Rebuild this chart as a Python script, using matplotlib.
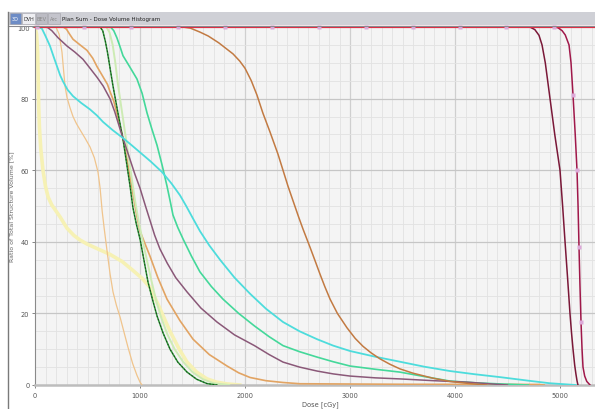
import matplotlib
matplotlib.use("Agg")
import matplotlib.pyplot as plt
from matplotlib.patches import Rectangle
from matplotlib.lines import Line2D
import numpy as np

W, H = 595, 410

# ---------------- data (dose in cGy, volume in %) ----------------
red_top_dose = [0, 5340]
red_top_vol = [100, 100]

maroon_dose = [0, 4714, 4760, 4800, 4829, 4860, 4905, 4950, 5000, 5025, 5048, 5072, 5095,
               5110, 5124, 5140, 5152, 5162, 5171]
maroon_vol = [100, 100, 99.3, 97.7, 95, 90, 80, 70, 60, 50, 40, 30, 20,
              14.5, 10, 5.5, 3, 1.2, 0]

crimson_dose = [0, 4950, 4981, 5020, 5050, 5086, 5105, 5124, 5145, 5162, 5172, 5181, 5190,
                5200, 5210, 5219, 5235, 5255, 5286]
crimson_vol = [100, 100, 99.8, 99, 97.8, 95, 90, 81, 70, 60, 50, 38.5, 28,
               17.6, 10, 5, 2.5, 1, 0]

brown_dose = [0, 1410, 1480, 1571, 1650, 1750, 1886, 1950, 2000, 2060, 2114, 2170, 2238,
              2314, 2362, 2410, 2457, 2510, 2552, 2619, 2670, 2714, 2760, 2810, 2880,
              2971, 3050, 3124, 3200, 3286, 3380, 3476, 3600, 3790, 3950, 4140, 4300]
brown_vol = [100, 100, 99.7, 98.6, 97.5, 95.6, 92.5, 90.5, 88.5, 85, 81, 76, 70.7,
             64.5, 60, 55.5, 51.5, 47, 43.6, 38.5, 34.5, 31, 27.5, 24, 20,
             16, 13, 10.8, 9, 7.3, 5.8, 4.5, 3.3, 1.9, 1, 0.4, 0]

cyan_dose = [0, 40, 67, 100, 143, 180, 210, 240, 267, 310, 362, 440, 524, 590, 648, 740,
             838, 920, 1000, 1100, 1210, 1300, 1381, 1440, 1505, 1571, 1660, 1762, 1900,
             2048, 2200, 2362, 2520, 2686, 2840, 3000, 3240, 3476, 3710, 3952, 4190,
             4429, 4700, 4900, 5000, 5150]
cyan_vol = [100, 100, 99.5, 97.5, 94.7, 91.5, 89, 86.5, 84.8, 82.5, 80.7, 78.8, 77, 75.3,
            73.5, 71.2, 69, 67, 65, 62.5, 59.5, 56.3, 53, 50, 46.5, 43, 39, 35, 30,
            25.5, 21.3, 17.6, 15, 12.8, 11, 9.5, 7.9, 6.5, 5.1, 3.9, 3,
            2.2, 1.2, 0.5, 0.3, 0]

purple_dose = [0, 114, 160, 220, 305, 380, 457, 524, 590, 650, 714, 760, 810, 860, 905,
               950, 1000, 1050, 1095, 1140, 1190, 1260, 1340, 1448, 1580, 1733, 1900,
               2090, 2230, 2362, 2520, 2686, 2840, 3000, 3240, 3476, 3800, 4114, 4350, 4500]
purple_vol = [100, 100, 99, 97, 94.7, 93, 91, 88.5, 86, 83.5, 80, 76.3, 71.5, 67, 63,
              59, 55, 50.2, 46, 41.8, 38, 34, 30, 26, 21.5, 17.6, 14,
              11, 8.5, 6.4, 5, 3.9, 3.1, 2.5, 2, 1.7, 1.2, 0.8, 0.3, 0]

mint_dose = [0, 720, 750, 780, 810, 838, 900, 971, 1020, 1067, 1110, 1162, 1210, 1257,
             1290, 1314, 1360, 1410, 1490, 1571, 1680, 1790, 1940, 2090, 2230, 2362,
             2520, 2686, 2840, 3000, 3240, 3476, 3700, 3952, 4200, 4429, 4700]
mint_vol = [100, 100, 99, 97, 94.5, 92, 89, 85.5, 81.5, 76, 71.8, 67, 61.5, 55.6,
            51, 47.5, 44, 40.8, 36, 31.6, 27.5, 24, 20, 16.5, 13.5, 11,
            9.3, 7.8, 6.5, 5.3, 4.4, 3.6, 2.4, 1.1, 0.6, 0.3, 0]

dkgreen_dose = [0, 620, 645, 670, 690, 715, 743, 790, 838, 875, 905, 933, 965, 1000,
                1040, 1076, 1120, 1162, 1220, 1286, 1360, 1448, 1540, 1638, 1733]
dkgreen_vol = [100, 100, 99, 96, 93, 88.5, 83.5, 76, 68.7, 61.5, 55.6, 49.5, 45, 40.8,
               34.5, 28.8, 23.8, 19.3, 14.5, 10, 6.4, 3.6, 1.6, 0.4, 0]

palegreen_dose = [0, 680, 710, 740, 765, 790, 830, 870, 910, 950, 985, 1020, 1065, 1110,
                  1155, 1200, 1260, 1330, 1410, 1500, 1600, 1700, 1850]
palegreen_vol = [100, 100, 98.5, 95, 90, 84, 76, 68, 60, 52, 46, 41, 35, 29,
                 23.5, 19, 14.2, 10, 6.5, 3.6, 1.6, 0.5, 0]

orange_dose = [0, 270, 300, 330, 362, 430, 495, 550, 590, 650, 690, 714, 750, 780, 830,
               876, 920, 971, 1000, 1050, 1095, 1170, 1257, 1380, 1505, 1660, 1829, 1940,
               2048, 2200, 2362, 2524, 3500, 4800, 4850]
orange_vol = [100, 100, 99.4, 98, 96.6, 95, 93.5, 91.3, 89, 86, 84, 82, 79.3, 76, 70,
              63, 55.5, 47, 43, 39.3, 36, 30, 24, 18, 12.8, 8.5, 5.3, 3.4,
              2.1, 1.2, 0.7, 0.35, 0.2, 0.15, 0]

tan_dose = [0, 200, 230, 257, 272, 286, 305, 333, 362, 395, 429, 480, 524, 565, 600, 620,
            640, 660, 686, 715, 743, 775, 810, 850, 886, 930, 971, 1000, 1019]
tan_vol = [100, 100, 98, 93, 88, 83.5, 80.3, 77.5, 75, 73, 71.3, 68.8, 66.5, 63.5, 59.5, 55,
           48.5, 43.5, 37.5, 31, 26, 22.3, 19, 14.5, 10.5, 6, 2.7, 0.8, 0]

paleyellow_dose = [0, 15, 25, 30, 35, 42, 55, 76, 100, 125, 160, 238, 305, 370, 429, 495,
                   600, 714, 830, 933, 1020, 1095, 1180, 1286, 1370, 1448, 1540, 1638,
                   1730, 1829, 1950]
paleyellow_vol = [100, 98, 93, 86, 78, 72, 66, 60, 55.5, 52.5, 50.3, 47, 43.8, 41.8, 40.5,
                  39.4, 38, 36.5, 34.5, 32, 29.8, 27.3, 22, 15, 10.2, 6.4, 3.6, 1.7,
                  0.8, 0.3, 0]

marker_dose = [20, 470, 915, 1365, 1810, 2255, 2705, 3150, 3600, 4045, 4490, 4940,
               5124, 5162, 5181, 5200]
marker_vol = [100] * 12 + [81, 60, 38.5, 17.6]

x_ticks = [0, 1000, 2000, 3000, 4000, 5000]
x_tick_labels = ["0", "1000", "2000", "3000", "4000", "5000"]
y_ticks = [0, 20, 40, 60, 80, 100]
y_tick_labels = ["0", "20", "40", "60", "80", "100"]

title_text = "Plan Sum - Dose Volume Histogram"
tab_labels = ["3D", "DVH", "BEV", "Arc"]
x_label = "Dose [cGy]"
y_label = "Ratio of Total Structure Volume [%]"

# ---------------- figure ----------------
fig = plt.figure(figsize=(W / 100, H / 100), dpi=100)
fig.patch.set_facecolor("white")

def fx(px):
    return px / W

def fy(py):
    return 1 - py / H

narrow = ["Liberation Sans Narrow", "DejaVu Sans"]

# axes
ax_l, ax_r, ax_t, ax_b = 35, 596, 27, 386
ax = fig.add_axes([fx(ax_l), fy(ax_b), fx(ax_r) - fx(ax_l), fy(ax_t) - fy(ax_b)])
ax.set_facecolor("#f4f4f4")
xmax = (ax_r - ax_l) / 0.105
ax.set_xlim(0, xmax)
ax.set_ylim(0, 100.3)

# grid
for d in np.arange(100, xmax, 100):
    major = abs(d % 1000) < 1
    ax.axvline(d, color="#cfcfcf" if major else "#e2e2e2", lw=0.9 if major else 0.6, zorder=0)
for v in np.arange(5, 100, 5):
    major = v % 20 == 0
    ax.axhline(v, color="#c6c6c6" if major else "#e2e2e2", lw=0.9 if major else 0.6, zorder=0)

# curves
ax.plot(paleyellow_dose, paleyellow_vol, color="#f6f1b4", lw=2.6, zorder=2)
ax.plot(tan_dose, tan_vol, color="#f0c48c", lw=0.9, zorder=3)
ax.plot(orange_dose, orange_vol, color="#e2a463", lw=1.2, zorder=3)
ax.plot(palegreen_dose, palegreen_vol, color="#cdebb4", lw=1.4, zorder=3)
ax.plot(dkgreen_dose, dkgreen_vol, color="#2f9a3a", lw=1.1, zorder=4)
ax.plot(dkgreen_dose, dkgreen_vol, color="#1c3a1c", lw=0.6, dashes=(2, 2), zorder=4)
ax.plot(mint_dose, mint_vol, color="#44d89a", lw=1.2, zorder=4)
ax.plot(purple_dose, purple_vol, color="#8a5878", lw=1.1, zorder=4)
ax.plot(cyan_dose, cyan_vol, color="#4ddcdc", lw=1.3, zorder=4)
ax.plot(brown_dose, brown_vol, color="#c27a42", lw=1.1, zorder=4)
ax.plot(maroon_dose, maroon_vol, color="#7a1838", lw=1.1, zorder=5)
ax.plot(crimson_dose, crimson_vol, color="#a0184a", lw=1.1, zorder=5)
ax.plot(red_top_dose, red_top_vol, color="#e02a40", lw=1.6, zorder=6, clip_on=False)
ax.plot(marker_dose, marker_vol, ls="none", marker="s", ms=2.2, color="#dca8d8",
        mec="none", zorder=7, clip_on=False)

# spines / ticks
for s in ["top", "right"]:
    ax.spines[s].set_visible(False)
ax.spines["left"].set_color("#8a8a8a")
ax.spines["left"].set_linewidth(0.8)
ax.spines["bottom"].set_color("#bdbdbd")
ax.spines["bottom"].set_linewidth(1.8)
ax.set_xticks(x_ticks)
ax.set_xticklabels(x_tick_labels)
ax.set_yticks(y_ticks)
ax.set_yticklabels(y_tick_labels)
ax.tick_params(axis="both", labelsize=4.8, colors="#555555", length=2, width=0.5, pad=2)
ax.tick_params(axis="x", pad=3)
for lab in ax.get_xticklabels() + ax.get_yticklabels():
    lab.set_family(narrow)

fig.text(fx(320), fy(405), x_label, fontsize=4.8, color="#555555", ha="center", va="center",
         family=narrow)
fig.text(fx(12), fy(207), y_label, fontsize=4.5, color="#666666", ha="center", va="center",
         rotation=90)

# header bar
fig.add_artist(Rectangle((fx(8), fy(26)), fx(595) - fx(8), fy(13) - fy(26),
                         transform=fig.transFigure, facecolor="#cfd0d6", edgecolor="none"))
fig.add_artist(Line2D([fx(8), fx(595)], [fy(26.5), fy(26.5)], transform=fig.transFigure,
                      color="#8a8a90", lw=0.8))
tab_x = [(10, 21), (22, 35), (36, 47), (48, 60)]
tab_fc = ["#6d8cc6", "#eeeef2", "#bcbcc4", "#c4c4cc"]
tab_tc = ["white", "#333333", "#888888", "#888888"]
for (a, b), lab, fc, tc in zip(tab_x, tab_labels, tab_fc, tab_tc):
    fig.add_artist(Rectangle((fx(a), fy(25)), fx(b) - fx(a), fy(14) - fy(25),
                             transform=fig.transFigure, facecolor=fc, edgecolor="#a0a0a8",
                             lw=0.4))
    fig.text(fx((a + b) / 2), fy(19.5), lab, fontsize=3.6, color=tc, ha="center", va="center",
             family=narrow)
fig.text(fx(62), fy(19.5), title_text, fontsize=4.0, color="#222222", ha="left", va="center",
         family=narrow)

# left frame line
fig.add_artist(Line2D([fx(8), fx(8)], [fy(13), fy(410)], transform=fig.transFigure,
                      color="#7a7a7a", lw=1.0))

fig.savefig("out.png", dpi=100)
